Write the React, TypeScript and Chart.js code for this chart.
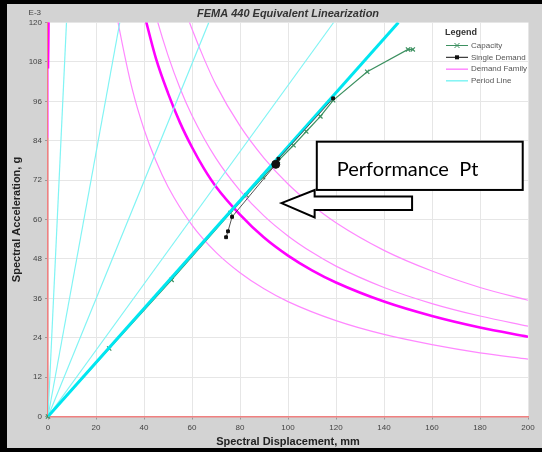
import React, { useEffect, useRef } from 'react';
import { Chart, registerables } from 'chart.js';

Chart.register(...registerables);

// ---------- axis ranges / ticks ----------
const xMin = 0;
const xMax = 200;
const xStep = 20;
const yMin = 0;
const yMax = 120;
const yStep = 12;

// ---------- Capacity curve ----------
const capacitySd = [0, 25.5, 51.5, 76, 82.7, 89.6, 95.8, 102.3, 107.6, 113.5, 118.8, 133, 150, 152];
const capacitySa = [0, 20.7, 41.6, 62, 67.4, 72.9, 77.8, 82.6, 86.8, 91.4, 96.3, 105, 111.8, 111.8];

// ---------- Single Demand iteration points ----------
const singleSd = [74.2, 75, 76.7, 94.9, 96, 118.8];
const singleSa = [54.6, 56.4, 60.8, 76.8, 78.5, 96.9];
const perfPointIndex = 3;

// ---------- Demand spectrum (effective damping, thick) ----------
const demandSd = [0, 0.5, 36, 38, 41, 45, 50, 55, 60, 65, 70, 80, 90, 100, 110, 120, 140, 160, 180, 200];
const demandSa = [106, 136, 136, 129, 120, 109, 98.5, 89.5, 82, 75.5, 70, 61.5, 54.5, 49, 44.5, 40.8, 35, 30.6, 27.1, 24.3];

// ---------- Demand family (thin) ----------
const family1Sd = [0, 0.5, 25, 28, 30, 35, 40, 45, 50, 60, 70, 80, 90, 100, 120, 140, 160, 180, 200];
const family1Sa = [85, 140, 140, 125, 117, 100, 87.5, 77.8, 70, 58.3, 50, 43.8, 38.9, 35, 29.2, 25, 21.9, 19.4, 17.5];
const family2Sd = [0, 0.5, 39, 42, 45, 50, 55, 60, 70, 80, 90, 100, 110, 120, 140, 160, 180, 200];
const family2Sa = [85, 141, 141, 131, 122, 110, 100, 91.7, 78.6, 68.8, 61.1, 55, 50, 45.8, 39.3, 34.4, 30.6, 27.5];
const family3Sd = [0, 0.5, 50, 54, 58, 60, 65, 70, 80, 90, 100, 110, 120, 140, 160, 180, 200];
const family3Sa = [85, 141.6, 141.6, 131, 122, 118, 109, 101, 88.5, 78.7, 70.8, 64.4, 59, 50.6, 44.3, 39.3, 35.4];

// ---------- Period lines (displacement where each radial line reaches Sa = 120) ----------
const periodTopSd = [7.7, 29.9, 67, 119];
const periodThickTopSd = 146;

// ---------- Labels ----------
const chartTitle = 'FEMA 440 Equivalent Linearization';
const xTitle = 'Spectral Displacement, mm';
const yTitle = 'Spectral Acceleration, g';
const yUnitLabel = 'E-3';
const legendTitle = 'Legend';
const legendLabels = ['Capacity', 'Single Demand', 'Demand Family', 'Period Line'];
const annotationText = 'Performance  Pt';

// annotation placement in data units
const boxSd = [112, 197.8];
const boxSa = [83.7, 69];
const arrowTip = [97.25, 65];
const arrowHeadSd = 111.1;
const arrowHeadSa = [69, 60.6];
const arrowShaftSa = [67, 62.9];
const arrowEndSd = 151.7;

const COLORS = {
  capacity: '#3c9060',
  single: '#111111',
  singleLine: '#555555',
  family: '#ff88ff',
  demand: '#ff00ff',
  period: '#80f4f4',
  periodThick: '#00e6f0',
  gray: '#d3d3d3',
};

const FONT = '"Liberation Sans", Arial, Helvetica, sans-serif';

const zip = (xs: number[], ys: number[]) => xs.map((x, i) => ({ x, y: ys[i] }));

const backgroundPlugin = {
  id: 'bg',
  beforeDraw(chart: any) {
    const { ctx, width, height, chartArea } = chart;
    ctx.save();
    ctx.fillStyle = COLORS.gray;
    ctx.fillRect(0, 0, width, height);
    ctx.fillStyle = '#000';
    ctx.fillRect(0, 0, width, 4);
    ctx.fillRect(0, 0, 7, height);
    ctx.fillRect(0, height - 4, width, 4);
    ctx.fillStyle = '#fff';
    ctx.fillRect(chartArea.left, chartArea.top, chartArea.right - chartArea.left, chartArea.bottom - chartArea.top);
    ctx.restore();
  },
};

const overlayPlugin = {
  id: 'overlay',
  afterDraw(chart: any) {
    const { ctx, chartArea } = chart;
    const xs = chart.scales.x;
    const ys = chart.scales.y;
    const px = (v: number) => xs.getPixelForValue(v);
    const py = (v: number) => ys.getPixelForValue(v);
    ctx.save();

    // title
    ctx.fillStyle = '#333';
    ctx.font = `italic bold 11px ${FONT}`;
    ctx.textAlign = 'center';
    ctx.textBaseline = 'middle';
    ctx.fillText(chartTitle, (chartArea.left + chartArea.right) / 2, 13.5);

    // unit label
    ctx.font = `8px ${FONT}`;
    ctx.fillStyle = '#444';
    ctx.textAlign = 'right';
    ctx.fillText(yUnitLabel, chartArea.left - 7, 13);

    // legend
    const lx = chartArea.right - 83;
    const ly = 32.5;
    ctx.textAlign = 'left';
    ctx.font = `bold 9px ${FONT}`;
    ctx.fillStyle = '#333';
    ctx.fillText(legendTitle, lx, ly);
    ctx.font = `8px ${FONT}`;
    const rows = [45.5, 57.3, 69.2, 80.8];
    const lineColors = [COLORS.capacity, COLORS.single, COLORS.family, COLORS.period];
    rows.forEach((ry, i) => {
      ctx.strokeStyle = lineColors[i];
      ctx.lineWidth = i >= 2 ? 1.5 : 1;
      ctx.beginPath();
      ctx.moveTo(lx + 1, ry);
      ctx.lineTo(lx + 23, ry);
      ctx.stroke();
      const mx = lx + 12;
      if (i === 0) {
        ctx.beginPath();
        ctx.moveTo(mx - 2.5, ry - 2.5);
        ctx.lineTo(mx + 2.5, ry + 2.5);
        ctx.moveTo(mx + 2.5, ry - 2.5);
        ctx.lineTo(mx - 2.5, ry + 2.5);
        ctx.stroke();
      } else if (i === 1) {
        ctx.fillStyle = COLORS.single;
        ctx.fillRect(mx - 2, ry - 2, 4, 4);
      }
      ctx.fillStyle = '#555';
      ctx.fillText(legendLabels[i], lx + 26, ry);
    });

    // annotation box
    ctx.lineWidth = 2;
    ctx.strokeStyle = '#000';
    ctx.fillStyle = '#fff';
    const bx0 = px(boxSd[0]);
    const bx1 = px(boxSd[1]);
    const by0 = py(boxSa[0]);
    const by1 = py(boxSa[1]);
    ctx.fillRect(bx0, by0, bx1 - bx0, by1 - by0);
    ctx.strokeRect(bx0, by0, bx1 - bx0, by1 - by0);
    ctx.fillStyle = '#000';
    ctx.font = '20px Lato, "Open Sans", sans-serif';
    ctx.textAlign = 'left';
    ctx.textBaseline = 'alphabetic';
    ctx.fillText(annotationText, bx0 + 20, by0 + 34);

    // arrow
    ctx.beginPath();
    ctx.moveTo(px(arrowTip[0]), py(arrowTip[1]));
    ctx.lineTo(px(arrowHeadSd), py(arrowHeadSa[0]));
    ctx.lineTo(px(arrowHeadSd), py(arrowShaftSa[0]));
    ctx.lineTo(px(arrowEndSd), py(arrowShaftSa[0]));
    ctx.lineTo(px(arrowEndSd), py(arrowShaftSa[1]));
    ctx.lineTo(px(arrowHeadSd), py(arrowShaftSa[1]));
    ctx.lineTo(px(arrowHeadSd), py(arrowHeadSa[1]));
    ctx.closePath();
    ctx.fillStyle = '#fff';
    ctx.fill();
    ctx.stroke();

    ctx.restore();
  },
};

export default function App() {
  const canvasRef = useRef<HTMLCanvasElement | null>(null);

  useEffect(() => {
    if (!canvasRef.current) return;
    const lineBase = { pointRadius: 0, borderJoinStyle: 'round' as const, fill: false };
    const datasets: any[] = [
      {
        label: 'Single Demand',
        data: zip(singleSd, singleSa),
        borderColor: COLORS.singleLine,
        borderWidth: 1,
        pointBackgroundColor: COLORS.single,
        pointBorderColor: COLORS.single,
        pointStyle: singleSd.map((_, i) => (i === perfPointIndex ? 'circle' : 'rect')),
        pointRadius: singleSd.map((_, i) => (i === perfPointIndex ? 4 : 2)),
        clip: false,
        order: 1,
      },
      {
        label: 'Period Line',
        data: [{ x: 0, y: 0 }, { x: periodThickTopSd, y: yMax }],
        borderColor: COLORS.periodThick,
        borderWidth: 3,
        ...lineBase,
        order: 2,
      },
      ...periodTopSd.map((sd) => ({
        label: 'Period Line',
        data: [{ x: 0, y: 0 }, { x: sd, y: yMax }],
        borderColor: COLORS.period,
        borderWidth: 1.2,
        ...lineBase,
        order: 3,
      })),
      {
        label: 'Capacity',
        data: zip(capacitySd, capacitySa),
        borderColor: COLORS.capacity,
        borderWidth: 1.2,
        pointStyle: 'crossRot',
        pointRadius: 3,
        pointBorderColor: COLORS.capacity,
        pointBorderWidth: 1.2,
        clip: false,
        order: 4,
      },
      {
        label: 'Demand',
        data: zip(demandSd, demandSa),
        borderColor: COLORS.demand,
        borderWidth: 2.6,
        cubicInterpolationMode: 'monotone',
        ...lineBase,
        order: 5,
      },
      ...[
        [family1Sd, family1Sa],
        [family2Sd, family2Sa],
        [family3Sd, family3Sa],
      ].map(([sd, sa]) => ({
        label: 'Demand Family',
        data: zip(sd, sa),
        borderColor: COLORS.family,
        borderWidth: 1.2,
        cubicInterpolationMode: 'monotone',
        ...lineBase,
        order: 6,
      })),
    ];

    const chart = new Chart(canvasRef.current, {
      type: 'line',
      data: { datasets },
      plugins: [backgroundPlugin, overlayPlugin],
      options: {
        animation: false,
        responsive: false,
        maintainAspectRatio: false,
        devicePixelRatio: 1,
        parsing: false as any,
        normalized: true,
        layout: { padding: { left: 8, right: 14, top: 22.5, bottom: 0 } },
        plugins: {
          legend: { display: false },
          title: { display: false },
          tooltip: { enabled: false },
        },
        elements: { line: { tension: 0 } },
        scales: {
          x: {
            type: 'linear',
            min: xMin,
            max: xMax,
            afterFit: (s: any) => {
              s.height = 35.5;
            },
            ticks: {
              stepSize: xStep,
              font: { family: FONT, size: 8 },
              color: '#444',
              padding: 3,
              maxRotation: 0,
            },
            grid: { color: '#e6e6e6', lineWidth: 1, tickLength: 3, tickColor: '#999' },
            border: { color: '#f08080', width: 1.5 },
            title: {
              display: true,
              text: xTitle,
              color: '#222',
              font: { family: FONT, size: 11, weight: 'bold' },
              padding: { top: 0, bottom: 3.5 },
            },
          },
          y: {
            type: 'linear',
            min: yMin,
            max: yMax,
            afterFit: (s: any) => {
              s.width = 40;
            },
            ticks: {
              stepSize: yStep,
              font: { family: FONT, size: 8 },
              color: '#444',
              padding: 3,
            },
            grid: { color: '#e6e6e6', lineWidth: 1, tickLength: 3, tickColor: '#999' },
            border: { color: '#f08080', width: 1.5 },
            title: {
              display: true,
              text: yTitle,
              color: '#222',
              font: { family: FONT, size: 11, weight: 'bold' },
              padding: { top: 2.5, bottom: 0 },
            },
          },
        },
      } as any,
    });
    return () => chart.destroy();
  }, []);

  return (
    <div style={{ position: 'absolute', left: 0, top: 0, width: 542, height: 452 }}>
      <canvas ref={canvasRef} width={542} height={452} style={{ width: 542, height: 452, display: 'block' }} />
    </div>
  );
}
